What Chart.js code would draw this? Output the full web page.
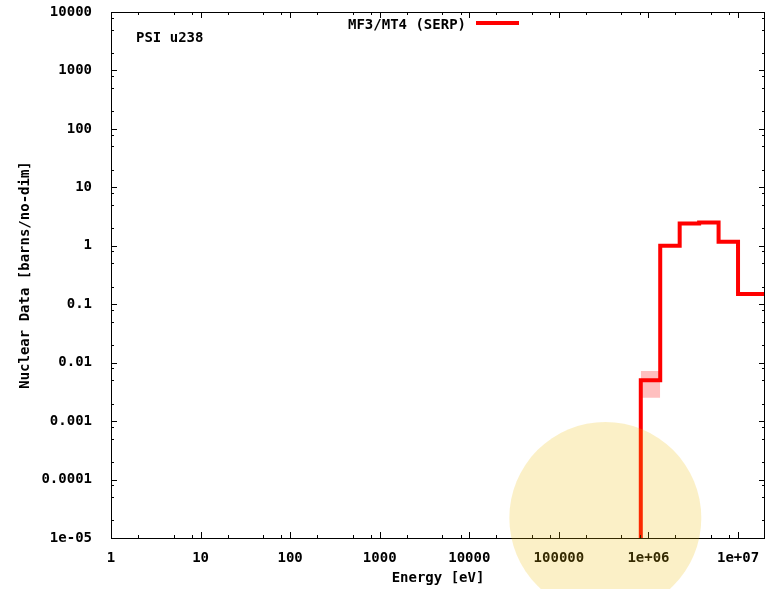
<!DOCTYPE html>
<html>
<head>
<meta charset="utf-8">
<script src="https://cdn.jsdelivr.net/npm/chart.js@4.4.1/dist/chart.umd.min.js"></script>
<style>
  html, body { margin: 0; padding: 0; background: #fff; }
  #wrap { width: 772px; height: 589px; }
</style>
</head>
<body>
<div id="wrap"><canvas id="xsChart"></canvas></div>
<script>
// group boundaries (eV) and group-averaged MT4 values
const groupEdges = [8.21e5, 1.353e6, 2.231e6, 3.679e6, 6.065e6, 1.0e7, 2.0e7];
const groupValues = [0.005, 1.0, 2.4, 2.5, 1.17, 0.15];

// uncertainty box on the threshold group
const errBin = [8.21e5, 1.353e6];
const errLow = [0.0025, 0.0025];
const errHigh = [0.0072, 0.0072];

const xDecades = [1, 10, 100, 1000, 1e4, 1e5, 1e6, 1e7];
const xTickLabels = ['1', '10', '100', '1000', '10000', '100000', '1e+06', '1e+07'];
const yDecades = [1e-5, 1e-4, 1e-3, 1e-2, 0.1, 1, 10, 100, 1000, 1e4];
const yTickLabels = ['1e-05', '0.0001', '0.001', '0.01', '0.1', '1', '10', '100', '1000', '10000'];
const minorSteps = [2, 5, 8];

const seriesLabel = 'MF3/MT4 (SERP)';
const plotTag = 'PSI u238';
// shaded marker, centre in data units, radius in px
const marker = { x: 3.3e5, y: 2.2e-5, r: 96 };

const FONT = "'DejaVu Sans Mono', monospace";

function stepPoints() {
  const pts = [{ x: groupEdges[0], y: yDecades[0] }];
  for (let i = 0; i < groupValues.length; i++) {
    pts.push({ x: groupEdges[i + 1], y: groupValues[i] });
  }
  return pts;
}

function logTicks(decades, min, max) {
  const out = [];
  decades.forEach(d => {
    out.push({ value: d, major: true });
    minorSteps.forEach(m => {
      const v = d * m;
      if (v > min && v < max) out.push({ value: v });
    });
  });
  return out.filter(t => t.value >= min && t.value <= max);
}

const frame = {
  id: 'frame',
  afterDatasetsDraw(chart) {
    const { ctx, chartArea: a, scales } = chart;
    ctx.save();
    ctx.strokeStyle = '#000';
    ctx.lineWidth = 1;
    ctx.strokeRect(a.left + 0.5, a.top + 0.5, a.right - a.left - 1, a.bottom - a.top);

    ctx.beginPath();
    scales.x.ticks.forEach(t => {
      const px = Math.round(scales.x.getPixelForValue(t.value)) + 0.5;
      const len = t.major ? 6 : 3;
      ctx.moveTo(px, a.bottom); ctx.lineTo(px, a.bottom - len);
      ctx.moveTo(px, a.top); ctx.lineTo(px, a.top + len);
    });
    scales.y.ticks.forEach(t => {
      const py = Math.round(scales.y.getPixelForValue(t.value)) + 0.5;
      const len = t.major ? 6 : 3;
      ctx.moveTo(a.left, py); ctx.lineTo(a.left + len, py);
      ctx.moveTo(a.right, py); ctx.lineTo(a.right - len, py);
    });
    ctx.stroke();

    // key and tag
    const ds = chart.data.datasets[0];
    ctx.font = 'bold 14px ' + FONT;
    ctx.fillStyle = '#000';
    ctx.textBaseline = 'middle';
    ctx.textAlign = 'right';
    ctx.fillText(ds.label, a.left + 355, a.top + 13);
    ctx.strokeStyle = ds.borderColor;
    ctx.lineWidth = ds.borderWidth;
    ctx.beginPath();
    ctx.moveTo(a.left + 365, a.top + 11);
    ctx.lineTo(a.left + 408, a.top + 11);
    ctx.stroke();
    ctx.textAlign = 'left';
    ctx.fillText(plotTag, a.left + 25, a.top + 26);
    ctx.restore();
  },
  afterDraw(chart) {
    const { ctx, scales } = chart;
    const cx = scales.x.getPixelForValue(marker.x);
    const cy = scales.y.getPixelForValue(marker.y);
    ctx.save();
    ctx.fillStyle = 'rgba(236, 185, 0, 0.22)';
    ctx.beginPath();
    ctx.arc(cx, cy, marker.r, 0, Math.PI * 2);
    ctx.fill();
    ctx.restore();
  }
};

function initChart() {
  const canvas = document.getElementById('xsChart');
  if (!canvas) return;

  Chart.defaults.font.family = FONT;
  Chart.defaults.font.size = 14;
  Chart.defaults.font.weight = 'bold';
  Chart.defaults.color = '#000';

  new Chart(canvas.getContext('2d'), {
    type: 'line',
    data: {
      datasets: [
        {
          label: seriesLabel,
          data: stepPoints(),
          stepped: 'after',
          borderColor: '#ff0000',
          borderWidth: 4,
          borderJoinStyle: 'miter',
          borderCapStyle: 'butt',
          pointRadius: 0,
          fill: false
        },
        {
          label: 'low',
          data: errBin.map((x, i) => ({ x: x, y: errLow[i] })),
          borderWidth: 0,
          pointRadius: 0,
          fill: false
        },
        {
          label: 'high',
          data: errBin.map((x, i) => ({ x: x, y: errHigh[i] })),
          borderWidth: 0,
          pointRadius: 0,
          backgroundColor: 'rgba(255, 0, 0, 0.25)',
          fill: '-1'
        }
      ]
    },
    options: {
      responsive: true,
      maintainAspectRatio: false,
      animation: false,
      layout: { padding: { top: 12, right: 7, left: 0, bottom: 0 } },
      plugins: {
        legend: { display: false },
        tooltip: { enabled: false }
      },
      scales: {
        x: {
          type: 'logarithmic',
          min: 1,
          max: 2e7,
          grid: { display: false },
          border: { display: false },
          afterBuildTicks: s => { s.ticks = logTicks(xDecades, 1, 2e7); },
          afterFit: s => {
            s.height = 51;
            s.paddingLeft = 0;
            s.paddingRight = 0;
          },
          ticks: {
            autoSkip: false,
            maxRotation: 0,
            padding: 4,
            callback: v => {
              const i = xDecades.indexOf(v);
              return i >= 0 ? xTickLabels[i] : '';
            }
          },
          title: {
            display: true,
            text: 'Energy [eV]',
            padding: { top: 0, bottom: 2 }
          }
        },
        y: {
          type: 'logarithmic',
          min: 1e-5,
          max: 1e4,
          grid: { display: false },
          border: { display: false },
          afterBuildTicks: s => { s.ticks = logTicks(yDecades, 1e-5, 1e4); },
          afterFit: s => {
            s.width = 111;
            s.paddingTop = 0;
            s.paddingBottom = 0;
          },
          ticks: {
            autoSkip: false,
            padding: 11,
            callback: v => {
              const i = yDecades.findIndex(d => Math.abs(d - v) / d < 1e-9);
              return i >= 0 ? yTickLabels[i] : '';
            }
          },
          title: {
            display: true,
            text: 'Nuclear Data [barns/no-dim]',
            padding: { top: 17, bottom: 0 }
          }
        }
      }
    },
    plugins: [frame]
  });
}

if (document.readyState === 'loading') {
  document.addEventListener('DOMContentLoaded', initChart);
} else {
  initChart();
}
</script>
</body>
</html>
